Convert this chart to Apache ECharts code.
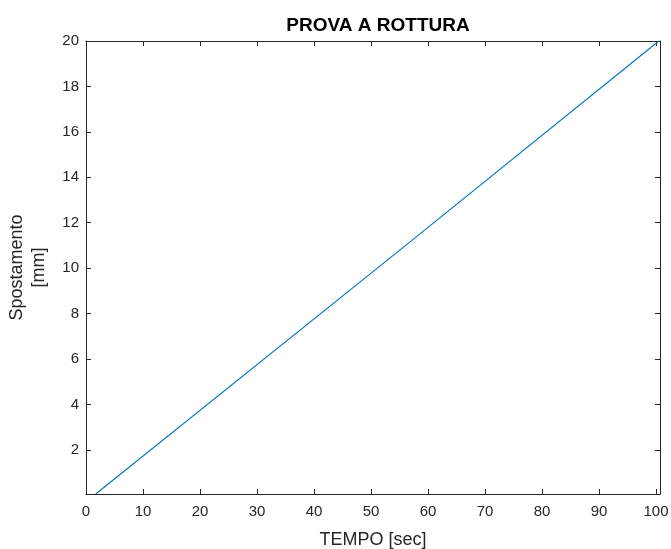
<!DOCTYPE html>
<html><head><meta charset="utf-8">
<script src="https://cdn.jsdelivr.net/npm/echarts@6/dist/echarts.min.js"></script>
<style>html,body{margin:0;padding:0;background:#fff}#c{width:671px;height:549px}</style>
</head><body><div id="c"></div>
<script>
const tempo = [1.7, 56.8, 100.5];
const spostamento = [0.06, 11.15, 20];
const xTicks = [0, 10, 20, 30, 40, 50, 60, 70, 80, 90, 100];
const yTicks = [2, 4, 6, 8, 10, 12, 14, 16, 18, 20];
const xRange = [0, 100.7];
const yRange = [0.06, 20];

const axisCol = '#262626';
const font = 'Liberation Sans, Arial, sans-serif';
const chart = echarts.init(document.getElementById('c'));
const baseX = {
  type: 'value', min: xRange[0], max: xRange[1],
  axisLine: {show: true, onZero: false, lineStyle: {color: axisCol, width: 1}},
  axisTick: {show: true, inside: true, length: 5, customValues: xTicks, lineStyle: {color: axisCol}},
  splitLine: {show: false}
};
const baseY = {
  type: 'value', min: yRange[0], max: yRange[1],
  axisLine: {show: true, onZero: false, lineStyle: {color: axisCol, width: 1}},
  axisTick: {show: true, inside: true, length: 5, customValues: yTicks, lineStyle: {color: axisCol}},
  splitLine: {show: false}
};
chart.setOption({
  animation: false,
  backgroundColor: '#fff',
  title: {text: 'PROVA A ROTTURA', left: 373, top: 11, textAlign: 'center',
    textStyle: {fontFamily: font, fontSize: 19, fontWeight: 'bold', color: '#000'}},
  grid: {left: 86, right: 11, top: 41, bottom: 55, outerBoundsMode: 'none', containLabel: false},
  xAxis: [
    Object.assign({}, baseX, {position: 'bottom',
      name: 'TEMPO [sec]', nameLocation: 'middle', nameGap: 37,
      nameTextStyle: {fontFamily: font, fontSize: 18, color: axisCol},
      axisLabel: {show: true, customValues: xTicks, fontFamily: font, fontSize: 15, color: axisCol, margin: 10}}),
    Object.assign({}, baseX, {position: 'top', axisLabel: {show: false}})
  ],
  yAxis: [
    Object.assign({}, baseY, {position: 'left',
      name: 'Spostamento\n[mm]', nameLocation: 'middle', nameGap: 36,
      nameTextStyle: {fontFamily: font, fontSize: 18, color: axisCol, lineHeight: 22},
      axisLabel: {show: true, customValues: yTicks, fontFamily: font, fontSize: 15, color: axisCol, margin: 7}}),
    Object.assign({}, baseY, {position: 'right', axisLabel: {show: false}})
  ],
  series: [{
    type: 'line', xAxisIndex: 0, yAxisIndex: 0, showSymbol: false,
    data: tempo.map((t, i) => [t, spostamento[i]]),
    lineStyle: {color: '#0072BD', width: 1.1}
  }]
});
</script></body></html>
